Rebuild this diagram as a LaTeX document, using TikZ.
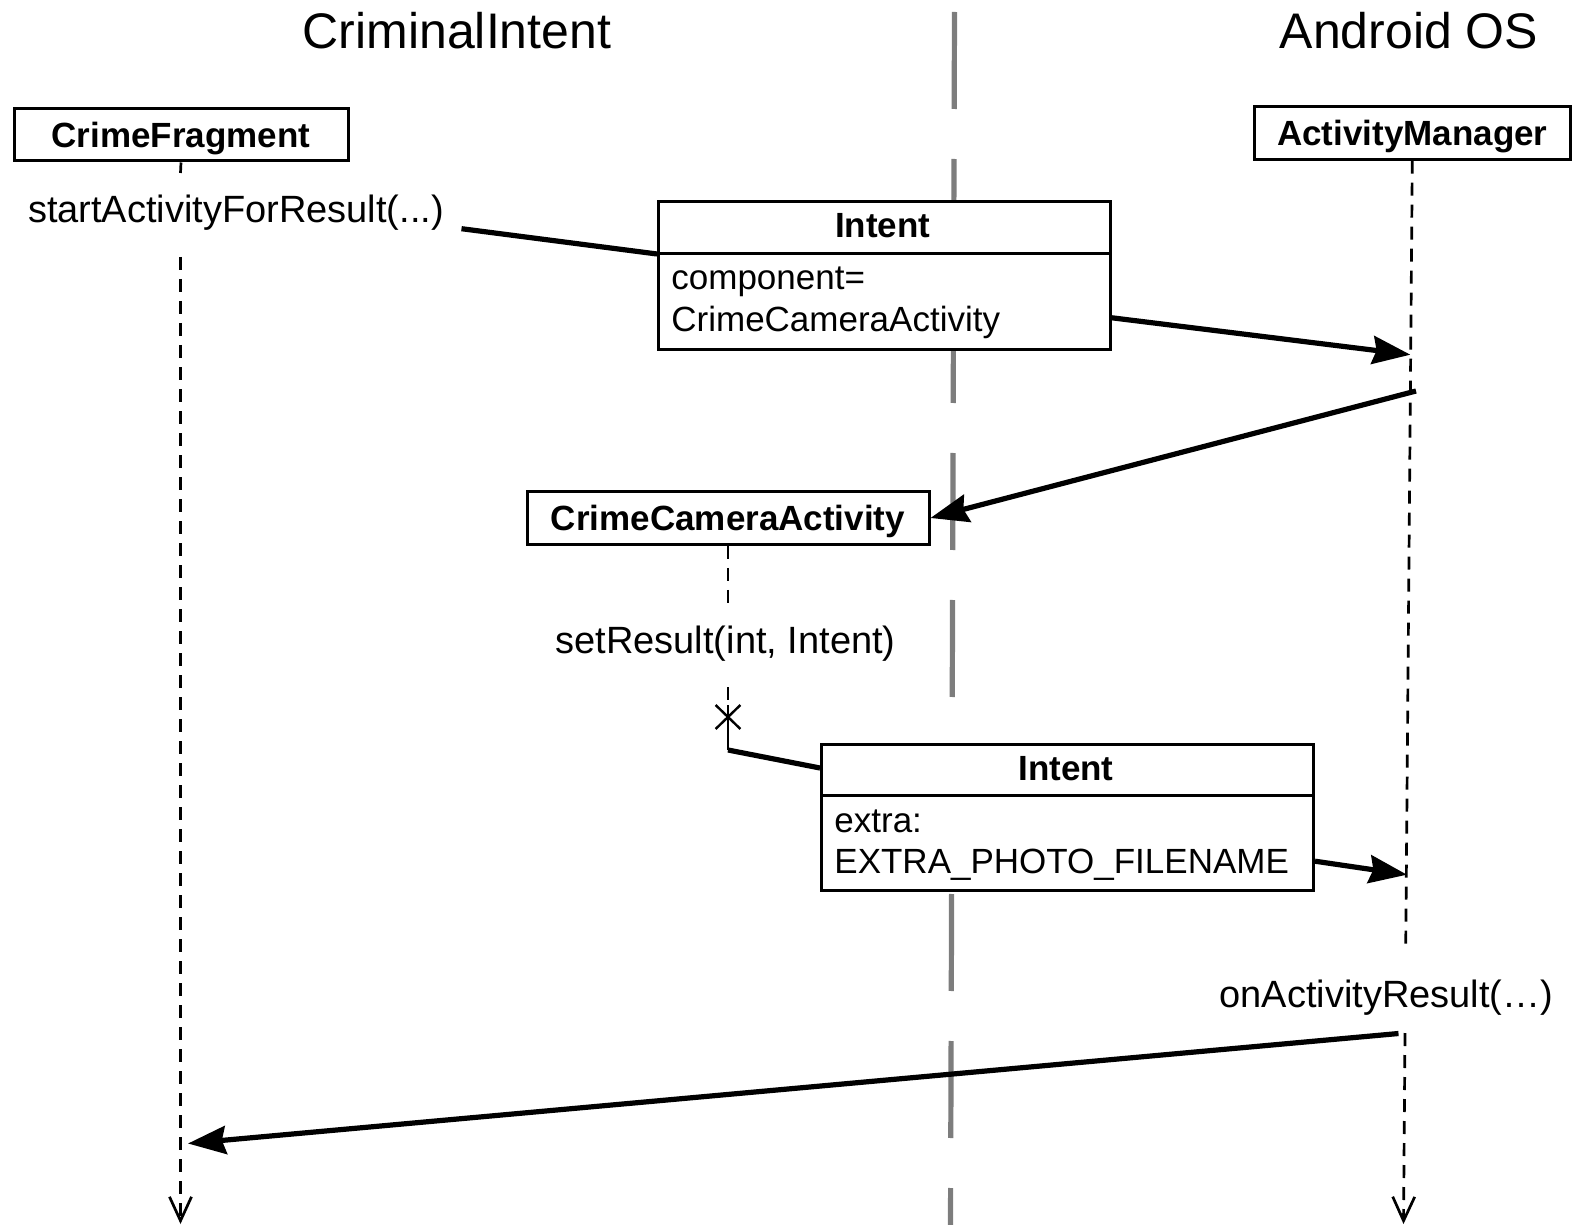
\documentclass[tikz,border=0pt]{standalone}
\usepackage{fontspec}
\setmainfont{Liberation Sans}
\usetikzlibrary{arrows.meta}
\definecolor{divgray}{RGB}{125,125,125}
\begin{document}
\begin{tikzpicture}[x=0.5pt,y=-0.5pt,
  titletext/.style={font=\fontsize{25}{30}\selectfont, inner sep=0, anchor=base},
  msg/.style={font=\fontsize{19}{23}\selectfont, inner sep=0, anchor=base},
  body/.style={font=\fontsize{17.5}{21}\selectfont, inner sep=0, anchor=base west},
  hdr/.style={font=\bfseries\fontsize{17.5}{21}\selectfont, inner sep=0, anchor=base},
  objbox/.style={draw, fill=white, line width=1.5pt, inner sep=0,
    font=\bfseries\fontsize{17.5}{21}\selectfont, text height=12.6pt, text depth=0pt},
  ibox/.style={draw, fill=white, line width=1.5pt, inner sep=0, anchor=north west},
  lifeline/.style={line width=1.35pt, dash pattern=on 6.5pt off 4.5pt},
  lifeend/.style={lifeline, -{Straight Barb[length=12pt,width=11pt]}},
  msgline/.style={line width=2.6pt},
  msgarrow/.style={msgline, -{Stealth[length=19pt,width=14pt,inset=2pt]}},
  centerline/.style={draw=divgray, line width=2.6pt, dash pattern=on 48.5pt off 25pt},
  xmark/.style={line width=1.2pt}
]
\useasboundingbox (0,0) rectangle (1580,1225);

% boundary line between the two systems
\coordinate (ctop) at (954.5,12);
\coordinate (cbot) at (950.5,1225);
\draw[centerline] (ctop) -- (cbot);

% titles
\node[titletext] (tci) at (457,48.5) {CriminalIntent};
\node[titletext] (tos) at (1409,48.5) {Android OS};

% object boxes
\node[objbox, minimum width=167pt, minimum height=26pt] (cf) at (181,135) {CrimeFragment};
\node[objbox, minimum width=157.7pt, minimum height=26.2pt] (am) at (1412.3,133) {ActivityManager};
\node[objbox, minimum width=201pt, minimum height=26.4pt] (cca) at (728,518) {CrimeCameraActivity};

% lifeline coordinates
\coordinate (cf1) at (180.5,173);
\coordinate (cf2) at (180.5,257);
\coordinate (cfend) at (180.5,1224);
\coordinate (cf3) at (188,1143.5);
\coordinate (am1) at (1405.7,950);
\coordinate (am2) at (1405,1033);
\coordinate (amend) at (1403.5,1224);
\coordinate (am3) at (1410.4,354.7);
\coordinate (am4) at (1416,391);
\coordinate (am5) at (1407,874.7);
\coordinate (am6) at (1398.5,1033.5);
\coordinate (cca1) at (728,603);
\coordinate (cca2) at (728,687);
\coordinate (cx) at (728,717);
\coordinate (cca3) at (728,750);

% lifelines
\draw[lifeline] (cf.south) -- (cf1);
\draw[lifeend] (cf2) -- (cfend);
\draw[lifeline] (am.south) -- (am1);
\draw[lifeend] (am2) -- (amend);
\draw[lifeline] (cca.south) -- (cca1);
\draw[lifeline] (cca2) -- ([yshift=6pt]cx);
\draw[xmark] ([shift={(-6.2pt,6pt)}]cx) -- ([shift={(6.2pt,-6pt)}]cx);
\draw[xmark] ([shift={(-6.2pt,-6pt)}]cx) -- ([shift={(6.2pt,6pt)}]cx);
\draw[xmark] ([yshift=6pt]cx) -- (cca3);

% first Intent
\node[ibox, minimum width=225.75pt, minimum height=73.75pt] (int1) at (657,200.5) {};
\draw[line width=1.5pt] ([yshift=-26.75pt]int1.north west) coordinate (int1dl)
  -- ([yshift=-26.75pt]int1.north east) coordinate (int1dr);
\node[hdr] (int1t) at (882.75,238) {Intent};
\node[body] (int1a) at (671,290) {component=};
\node[body] (int1b) at (671,332) {CrimeCameraActivity};

% second Intent
\node[ibox, minimum width=246pt, minimum height=73pt] (int2) at (820,742.7) {};
\draw[line width=1.5pt] ([yshift=-26.2pt]int2.north west) coordinate (int2dl)
  -- ([yshift=-26.2pt]int2.north east) coordinate (int2dr);
\node[hdr] (int2t) at (1066,780) {Intent};
\node[body] (int2a) at (834,832) {extra:};
\node[body] (int2b) at (834,873) {EXTRA\_PHOTO\_FILENAME};

% message labels
\node[msg] (m1) at (236,223) {startActivityForResult(...)};
\node[msg] (m2) at (725.6,653) {setResult(int, Intent)};
\node[msg] (m3) at (1386.5,1007) {onActivityResult(…)};
\coordinate (m1e) at (461.5,228.7);

% connectors
\draw[msgline] (m1e) -- (int1dl);
\draw[msgarrow] ([yshift=-21pt]int1.east) -- (am3);
\draw[msgarrow] (am4) -- (cca.east);
\draw[msgline] (cca3) -- ([yshift=-12.65pt]int2.north west);
\draw[msgarrow] ([yshift=-22pt]int2.east) -- (am5);
\draw[msgarrow] (am6) -- (cf3);
\end{tikzpicture}
\end{document}
